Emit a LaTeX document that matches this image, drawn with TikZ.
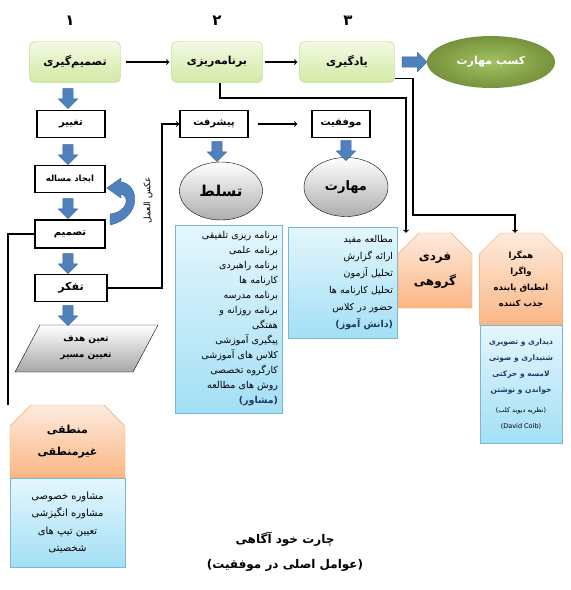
\documentclass[tikz,border=0pt]{standalone}
\usepackage{fontspec}
\usetikzlibrary{shapes.geometric,shapes.misc,shapes.arrows}
\TeXXeTstate=1
\newfontfamily\farsi[Script=Arabic]{DejaVu Sans}
\newcommand\fatxt[1]{\beginR #1\endR}
\definecolor{greenTop}{HTML}{F3FAE3}
\definecolor{greenBot}{HTML}{D2E9A4}
\definecolor{greenLine}{HTML}{B5D08A}
\definecolor{skillIn}{HTML}{A2C262}
\definecolor{skillOut}{HTML}{76923C}
\definecolor{arrowBlue}{HTML}{4F81BD}
\definecolor{arrowLine}{HTML}{3A6395}
\definecolor{listTop}{HTML}{E4F6FC}
\definecolor{listBot}{HTML}{A3DFF5}
\definecolor{listLine}{HTML}{7DB6D0}
\definecolor{orangeTop}{HTML}{FDEBDD}
\definecolor{orangeBot}{HTML}{FAB683}
\definecolor{orangeLine}{HTML}{F0A56C}
\definecolor{navyText}{HTML}{1F3864}
\begin{document}
\begin{tikzpicture}[x=1pt,y=-1pt,
  numlabel/.style={font=\farsi\bfseries\fontsize{15}{17}\selectfont},
  greenbox/.style={draw=greenLine,rounded corners=5pt,top color=greenTop,
    bottom color=greenBot,minimum width=91,minimum height=41,
    font=\farsi\bfseries\fontsize{11}{13}\selectfont},
  blackbox/.style={draw,line width=1.4pt,fill=white,minimum width=68,
    minimum height=27,inner sep=1pt,font=\farsi\bfseries\fontsize{10}{11}\selectfont},
  grayball/.style={ellipse,draw,top color=white,bottom color=black!32,
    font=\farsi\bfseries\fontsize{15}{17}\selectfont},
  listbox/.style={draw=listLine,top color=listTop,bottom color=listBot,
    inner sep=4pt},
  orangebox/.style={chamfered rectangle,
    chamfered rectangle corners={north west,north east},
    chamfered rectangle xsep=11pt,chamfered rectangle ysep=10pt,
    draw=orangeLine,top color=orangeTop,bottom color=orangeBot},
  blockarrow/.style={single arrow,draw=arrowLine,fill=arrowBlue,inner sep=5pt,
    minimum height=20pt,single arrow head extend=4.5pt,shape border rotate=270},
  link/.style={line width=1.1pt,->},
  wire/.style={line width=1.1pt}]
\useasboundingbox (0,0) rectangle (571,590);
% top row
\node[numlabel] (num1) at (70,21) {۱};
\node[numlabel] (num2) at (217,21) {۲};
\node[numlabel] (num3) at (348,21) {۳};
\node[greenbox] (decide) at (75,62) {\fatxt{تصمیم‌گیری}};
\node[greenbox] (plan) at (217,62) {\fatxt{برنامه‌ریزی}};
\node[greenbox,minimum width=95] (learn) at (347,62) {\fatxt{یادگیری}};
\node[ellipse,inner color=skillIn,outer color=skillOut,minimum width=128,
  minimum height=52,text=white,font=\farsi\bfseries\fontsize{11}{13}\selectfont]
  (gain) at (491,62) {\fatxt{کسب مهارت}};
\node[blockarrow,shape border rotate=0,minimum height=25pt] (toGain) at (412,62) {};
\draw[link,shorten <=5pt,shorten >=2pt] (decide.east) -- (plan.west);
\draw[link,shorten <=2pt,shorten >=2pt] (plan.east) -- (learn.west);
% left column
\node[blackbox] (change) at (71,124) {\fatxt{تغییر}};
\node[blackbox,minimum width=70] (problem) at (70,179)
  {\fontsize{8.5}{10}\selectfont\fatxt{ایجاد مساله}};
\node[blackbox,minimum width=70,minimum height=28] (choose) at (70,234) {\fatxt{تصمیم}};
\node[blackbox,minimum width=72,font=\farsi\bfseries\fontsize{11}{12}\selectfont]
  (think) at (71,288) {\fatxt{تفکر}};
\path[draw,top color=white,bottom color=black!35] (40,325) -- (158,325)
  -- (133,372) -- (15,372) -- cycle;
\node[align=center,font=\farsi\bfseries\fontsize{9}{16}\selectfont] (goal) at (86,348)
  {\fatxt{تعین هدف}\\\fatxt{تعیین مسیر}};
\node[blockarrow] (a1) at (68,96) {};
\node[blockarrow] (a2) at (68,152) {};
\node[blockarrow] (a3) at (68,206) {};
\node[blockarrow] (a4) at (68,261) {};
\node[blockarrow] (a5) at (68,313) {};
% feedback
\path[draw=arrowLine,fill=arrowBlue] (107,188) -- (121,178) -- (121,182)
  .. controls (140,184) and (142,218) .. (110,225) -- (110,214)
  .. controls (128,212) and (130,196) .. (121,194) -- (121,198) -- cycle;
\node[rotate=90,font=\farsi\fontsize{9}{10}\selectfont] (react) at (148,200)
  {\fatxt{عکس العمل}};
% middle
\node[blackbox] (progress) at (214,124) {\fatxt{پیشرفت}};
\node[blackbox,minimum width=58] (success) at (341,124) {\fatxt{موفقیت}};
\node[grayball,minimum width=83,minimum height=58] (master) at (221,191)
  {\fatxt{تسلط}};
\node[grayball,minimum width=84,minimum height=59,
  font=\farsi\bfseries\fontsize{13}{15}\selectfont] (skill) at (346,187)
  {\fatxt{مهارت}};
\node[blockarrow] (a6) at (217,149) {};
\node[blockarrow] (a7) at (346,148) {};
\draw[link,shorten <=9pt,shorten >=14pt] (progress.east) -- (success.west);
\draw[link] (think.east) -- (think.east -| 162,0) |- (progress.west);
\node[listbox,minimum width=107,minimum height=188,text width=99,align=right,
  font=\farsi\fontsize{9.5}{15}\selectfont] (tutor) at (228.5,319)
  {\fatxt{برنامه ریزی تلفیقی}\\\fatxt{برنامه علمی}\\\fatxt{برنامه راهبردی}\\
   \fatxt{کارنامه ها}\\\fatxt{برنامه مدرسه}\\\fatxt{برنامه روزانه و}\\
   \fatxt{هفتگی}\\\fatxt{پیگیری آموزشی}\\\fatxt{کلاس های آموزشی}\\
   \fatxt{کارگروه تخصصی}\\\fatxt{روش های مطالعه}\\
   {\bfseries\color{navyText}\fatxt{(مشاور)}}};
\node[listbox,minimum width=109,minimum height=111,text width=101,align=right,
  font=\farsi\fontsize{9.5}{17}\selectfont] (pupil) at (342.5,282.5)
  {\fatxt{مطالعه مفید}\\\fatxt{ارائه گزارش}\\\fatxt{تحلیل آزمون}\\
   \fatxt{تحلیل کارنامه ها}\\\fatxt{حضور در کلاس}\\
   {\bfseries\color{navyText}\fatxt{(دانش آموز)}}};
% right
\node[orangebox,minimum width=74,minimum height=75,align=center,
  font=\farsi\bfseries\fontsize{12}{25}\selectfont] (group) at (435,270.5)
  {\fatxt{فردی}\\\fatxt{گروهی}};
\node[orangebox,minimum width=82,minimum height=92,align=center,
  font=\farsi\bfseries\fontsize{8.5}{16}\selectfont] (style) at (521,279)
  {\fatxt{همگرا}\\\fatxt{واگرا}\\\fatxt{انطباق یابنده}\\\fatxt{جذب کننده}};
\node[listbox,minimum width=82,minimum height=118,align=center,
  font=\farsi\bfseries\fontsize{7.5}{16}\selectfont,text=navyText] (colb) at (521,384)
  {\fatxt{دیداری و تصویری}\\\fatxt{شنیداری و صوتی}\\\fatxt{لامسه و حرکتی}\\
   \fatxt{خواندن و نوشتن}\\[4pt]
   {\mdseries\color{black}\fontsize{6.5}{15}\selectfont\fatxt{(نظریه دیوید کلب)}}\\
   {\mdseries\color{black}\fontsize{6.5}{15}\selectfont (David Colb)}};
\coordinate (bendA) at (406,98);
\coordinate (bendB) at (413,215);
\draw[link] ([xshift=3pt]plan.south) |- (bendA) -- (bendA |- group.north);
\draw[link] ([yshift=4pt]learn.south east) -| (bendB) -| ([xshift=-6pt]style.north);
% bottom left
\node[orangebox,minimum width=115,minimum height=73,align=center,
  font=\farsi\bfseries\fontsize{11}{22}\selectfont] (logic) at (67.5,441.5)
  {\fatxt{منطقی}\\\fatxt{غیرمنطقی}};
\node[listbox,minimum width=115,minimum height=89,align=center,
  font=\farsi\fontsize{10}{17.5}\selectfont] (advice) at (67.5,522.5)
  {\fatxt{مشاوره خصوصی}\\\fatxt{مشاوره انگیزشی}\\\fatxt{تعیین تیپ های}\\
   \fatxt{شخصیتی}};
\coordinate (logicTop) at (8,405);
\draw[wire] (choose.west) -| (logicTop);
% title
\node[align=center,font=\farsi\bfseries\fontsize{12}{25}\selectfont] (title)
  at (285,552) {\fatxt{چارت خود آگاهی}\\\fatxt{(عوامل اصلی در موفقیت)}};
\end{tikzpicture}
\end{document}
